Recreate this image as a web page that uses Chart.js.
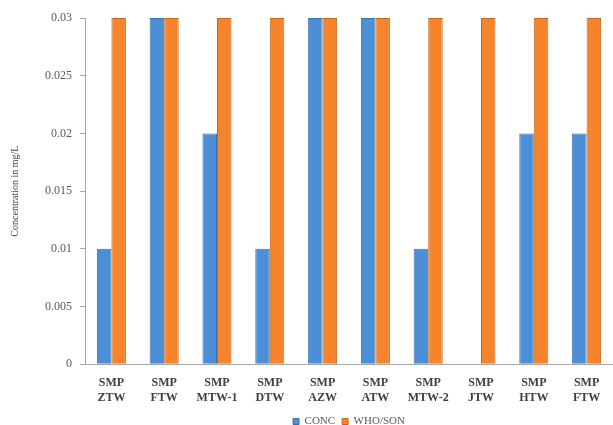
<!DOCTYPE html>
<html>
<head>
<meta charset="utf-8">
<script src="https://cdn.jsdelivr.net/npm/chart.js@4"></script>
<style>
  html, body { margin: 0; padding: 0; background: #fff; }
  #wrap { width: 613px; height: 425px; }
</style>
</head>
<body>
<div id="wrap"><canvas id="chart" width="613" height="425"></canvas></div>
<script>
// Sites along the x axis
const sites = [
    ['SMP', 'ZTW'], ['SMP', 'FTW'], ['SMP', 'MTW-1'], ['SMP', 'DTW'], ['SMP', 'AZW'],
    ['SMP', 'ATW'], ['SMP', 'MTW-2'], ['SMP', 'JTW'], ['SMP', 'HTW'], ['SMP', 'FTW']
];

// Measured concentration (mg/L)
const conc = [0.01, 0.03, 0.02, 0.01, 0.03, 0.03, 0.01, 0, 0.02, 0.02];

// WHO/SON limit (mg/L)
const whoSon = [0.03, 0.03, 0.03, 0.03, 0.03, 0.03, 0.03, 0.03, 0.03, 0.03];

const yTicks = [0, 0.005, 0.01, 0.015, 0.02, 0.025, 0.03];

const serif = "'Liberation Serif', 'DejaVu Serif', serif";

const ctx = document.getElementById('chart').getContext('2d');

new Chart(ctx, {
    type: 'bar',
    data: {
        labels: sites,
        datasets: [
            {
                label: 'CONC',
                data: conc,
                backgroundColor: '#4d8fd6',
                borderColor: '#3a72b0',
                borderWidth: 1
            },
            {
                label: 'WHO/SON',
                data: whoSon,
                backgroundColor: '#f5842c',
                borderColor: '#c9661c',
                borderWidth: 1
            }
        ]
    },
    options: {
        responsive: false,
        animation: false,
        layout: {
            padding: { top: 18, right: 0, left: 9, bottom: -12 }
        },
        datasets: {
            bar: {
                categoryPercentage: 0.55,
                barPercentage: 1.0
            }
        },
        scales: {
            x: {
                grid: { display: false },
                border: { display: true, color: '#a6a6a6', width: 1 },
                ticks: {
                    color: '#404040',
                    font: { family: serif, size: 12, weight: 'bold', lineHeight: 1.2 },
                    maxRotation: 0,
                    autoSkip: false,
                    padding: 4
                }
            },
            y: {
                min: 0,
                max: 0.03,
                afterBuildTicks: (axis) => {
                    axis.ticks = yTicks.map(v => ({ value: v }));
                },
                grid: {
                    drawOnChartArea: false,
                    drawTicks: true,
                    tickLength: 5,
                    color: '#a6a6a6'
                },
                border: { display: true, color: '#a6a6a6', width: 1 },
                ticks: {
                    color: '#595959',
                    font: { family: serif, size: 12 },
                    padding: 8,
                    callback: (v) => String(v)
                },
                title: {
                    display: true,
                    text: 'Concentration in mg/L',
                    color: '#404040',
                    font: { family: serif, size: 10 },
                    padding: { top: 0, bottom: 16 }
                }
            }
        },
        plugins: {
            legend: {
                position: 'bottom',
                fullSize: false,
                labels: {
                    color: '#595959',
                    font: { family: serif, size: 11 },
                    boxWidth: 6,
                    boxHeight: 6,
                    padding: 7
                }
            },
            tooltip: { enabled: false }
        }
    }
});
</script>
</body>
</html>
